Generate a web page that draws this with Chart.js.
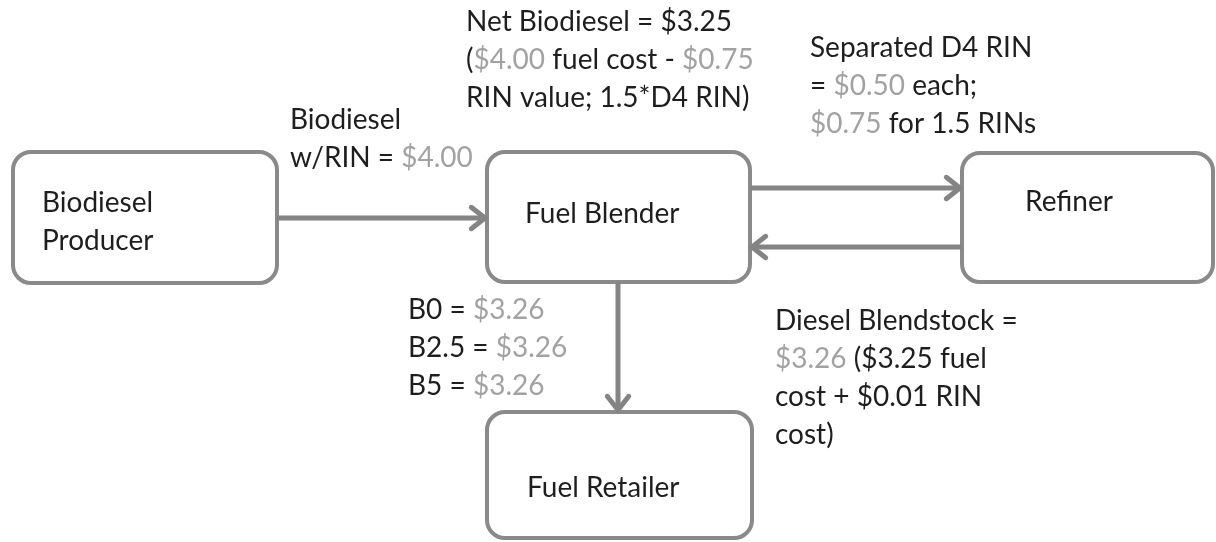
<!DOCTYPE html>
<html>
<head>
<meta charset="utf-8">
<script src="https://cdn.jsdelivr.net/npm/chart.js@4.4.0/dist/chart.umd.min.js"></script>
<style>
	html, body { margin: 0; padding: 0; background: #fff; }
	#wrap { width: 1216px; height: 542px; }
</style>
</head>
<body>
<div id="wrap"><canvas id="flow" width="1216" height="542"></canvas></div>
<script>
// nodes of the flow (diagram units = picture pixels)
const nodeNames = ["Biodiesel\nProducer", "Fuel Blender", "Refiner", "Fuel Retailer"];
const nodeLeft = [13, 487, 962, 487];
const nodeRight = [277, 750, 1213, 752];
const nodeTop = [152, 152, 153, 412];
const nodeBottom = [283, 282, 282, 538];
const nodeTextX = [42, 525, 1025, 527];
const nodeTextY = [203, 214, 202, 488];

// arrows: from -> to
const arrowFromX = [277, 750, 962, 618];
const arrowFromY = [218, 188, 247, 282];
const arrowToX = [487, 962, 750, 618];
const arrowToY = [218, 188, 247, 412];

// price notes, {..} marks the grey values
const noteLines = [
	["Net Biodiesel = $3.25", "({$4.00} fuel cost - {$0.75}", "RIN value; 1.5*D4 RIN)"],
	["Separated D4 RIN", "= {$0.50} each;", "{$0.75} for 1.5 RINs"],
	["Biodiesel", "w/RIN = {$4.00}"],
	["B0 = {$3.26}", "B2.5 = {$3.26}", "B5 = {$3.26}"],
	["Diesel Blendstock =", "{$3.26} ($3.25 fuel", "cost + $0.01 RIN", "cost)"],
];
const noteX = [466, 810, 290, 408, 775];
const noteY = [22, 48, 120, 310, 321];

const lineGap = 38;
const font = "28px Lato";
const inkColor = "#1e1e1e";
const valueColor = "#a2a2a2";
const edgeColor = "#848484";

const drawRich = (ctx, str, x, y) => {
	const parts = str.split(/(\{[^}]*\})/).filter((p) => p.length);
	let cx = x;
	parts.forEach((p) => {
		let txt = p;
		ctx.fillStyle = inkColor;
		if (p[0] === "{") {
			txt = p.slice(1, -1);
			ctx.fillStyle = valueColor;
		}
		ctx.fillText(txt, cx, y);
		cx += ctx.measureText(txt).width;
	});
};

const flowPlugin = {
	id: "flow",
	beforeDatasetsDraw(chart) {
		const { ctx, scales } = chart;
		const sx = scales.x, sy = scales.y;
		ctx.save();
		ctx.strokeStyle = "#8a8a8a";
		ctx.lineWidth = 4;
		nodeNames.forEach((n, i) => {
			const x0 = sx.getPixelForValue(nodeLeft[i]);
			const x1 = sx.getPixelForValue(nodeRight[i]);
			const y0 = sy.getPixelForValue(nodeTop[i]);
			const y1 = sy.getPixelForValue(nodeBottom[i]);
			ctx.beginPath();
			ctx.roundRect(x0, y0, x1 - x0, y1 - y0, 18);
			ctx.fillStyle = "#fff";
			ctx.fill();
			ctx.stroke();
		});
		ctx.restore();
	},
	afterDatasetsDraw(chart) {
		const { ctx, scales } = chart;
		const sx = scales.x, sy = scales.y;
		ctx.save();
		// arrow heads
		ctx.strokeStyle = edgeColor;
		ctx.lineWidth = 5;
		ctx.lineCap = "round";
		ctx.lineJoin = "miter";
		arrowToX.forEach((tx, i) => {
			const px = sx.getPixelForValue(tx), py = sy.getPixelForValue(arrowToY[i]);
			const fx = sx.getPixelForValue(arrowFromX[i]), fy = sy.getPixelForValue(arrowFromY[i]);
			const a = Math.atan2(py - fy, px - fx);
			const len = 19, half = 0.6;
			ctx.beginPath();
			ctx.moveTo(px - len * Math.cos(a - half), py - len * Math.sin(a - half));
			ctx.lineTo(px - 2 * Math.cos(a), py - 2 * Math.sin(a));
			ctx.lineTo(px - len * Math.cos(a + half), py - len * Math.sin(a + half));
			ctx.stroke();
		});
		// texts
		ctx.font = font;
		ctx.textBaseline = "middle";
		ctx.textAlign = "left";
		nodeNames.forEach((n, i) => {
			n.split("\n").forEach((ln, k) => {
				drawRich(ctx, ln, sx.getPixelForValue(nodeTextX[i]), sy.getPixelForValue(nodeTextY[i] + k * lineGap));
			});
		});
		noteLines.forEach((lines, i) => {
			lines.forEach((ln, k) => {
				drawRich(ctx, ln, sx.getPixelForValue(noteX[i]), sy.getPixelForValue(noteY[i] + k * lineGap));
			});
		});
		ctx.restore();
	},
};

const arrowSets = arrowFromX.map((fx, i) => ({
	data: [
		{ x: fx, y: arrowFromY[i] },
		{ x: arrowToX[i] - (arrowToX[i] - fx === 0 ? 0 : Math.sign(arrowToX[i] - fx) * 2), y: arrowToY[i] - (arrowToY[i] - arrowFromY[i] === 0 ? 0 : Math.sign(arrowToY[i] - arrowFromY[i]) * 2) },
	],
	showLine: true,
	borderColor: edgeColor,
	borderWidth: 5,
	pointRadius: 0,
	fill: false,
}));

const context = document.getElementById("flow").getContext("2d");
new Chart(context, {
	type: "scatter",
	data: { datasets: arrowSets },
	options: {
		responsive: false,
		animation: false,
		devicePixelRatio: 1,
		layout: { padding: 0 },
		plugins: { legend: { display: false }, tooltip: { enabled: false } },
		scales: {
			x: { type: "linear", min: 0, max: 1216, display: false },
			y: { type: "linear", min: 0, max: 542, reverse: true, display: false },
		},
	},
	plugins: [flowPlugin],
});
</script>
</body>
</html>
